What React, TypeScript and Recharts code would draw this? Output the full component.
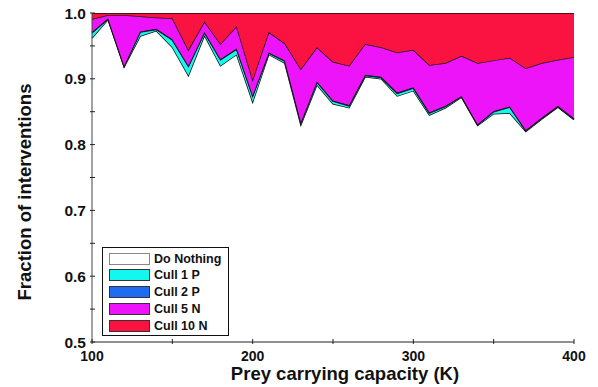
import { Area, AreaChart, Label, XAxis, YAxis } from "recharts";

const capacity = [
  100, 110, 120, 130, 140, 150, 160, 170, 180, 190, 200, 210, 220, 230, 240, 250,
  260, 270, 280, 290, 300, 310, 320, 330, 340, 350, 360, 370, 380, 390, 400,
];

const doNothing = [
  0.962, 0.99, 0.918, 0.965, 0.973, 0.948, 0.905, 0.966, 0.92, 0.937, 0.865, 0.937,
  0.924, 0.83, 0.891, 0.862, 0.856, 0.903, 0.9, 0.874, 0.882, 0.845, 0.856, 0.872,
  0.829, 0.847, 0.848, 0.82, 0.839, 0.857, 0.838,
];
const cull1P = [
  0.008, 0.001, 0.001, 0.006, 0.002, 0.011, 0.014, 0.004, 0.009, 0.008, 0.009, 0.002,
  0.003, 0.003, 0.004, 0.004, 0.003, 0.002, 0.002, 0.004, 0.004, 0.003, 0.002, 0.001,
  0.001, 0.003, 0.009, 0.001, 0.001, 0.001, 0.001,
];
const cull2P = [
  0.001, 0.001, 0.001, 0.001, 0.001, 0.001, 0.001, 0.001, 0.001, 0.001, 0.001, 0.001,
  0.001, 0.001, 0.001, 0.001, 0.001, 0.001, 0.001, 0.001, 0.001, 0.001, 0.001, 0.001,
  0.001, 0.001, 0.001, 0.001, 0.001, 0.001, 0.001,
];
const cull5N = [
  0.02, 0.005, 0.077, 0.023, 0.017, 0.032, 0.024, 0.016, 0.023, 0.034, 0.024, 0.031,
  0.026, 0.081, 0.052, 0.059, 0.06, 0.047, 0.045, 0.061, 0.057, 0.072, 0.065, 0.061,
  0.093, 0.077, 0.074, 0.094, 0.083, 0.07, 0.093,
];
const cull10N = [
  0.009, 0.003, 0.003, 0.005, 0.007, 0.008, 0.056, 0.013, 0.047, 0.02, 0.101, 0.029,
  0.046, 0.085, 0.052, 0.074, 0.08, 0.047, 0.052, 0.06, 0.056, 0.079, 0.076, 0.065,
  0.076, 0.072, 0.068, 0.084, 0.076, 0.071, 0.067,
];

const xTicks = [100, 150, 200, 250, 300, 350, 400];
const yTicks = [0.5, 0.55, 0.6, 0.65, 0.7, 0.75, 0.8, 0.85, 0.9, 0.95, 1.0];

const series = [
  { key: "doNothing", name: "Do Nothing", color: "#ffffff", border: "#888" },
  { key: "cull1P", name: "Cull 1 P", color: "#12f8ee", border: "#333" },
  { key: "cull2P", name: "Cull 2 P", color: "#1e6cf2", border: "#333" },
  { key: "cull5N", name: "Cull 5 N", color: "#ee14fa", border: "#333" },
  { key: "cull10N", name: "Cull 10 N", color: "#fa1240", border: "#333" },
];

const data = capacity.map((k, i) => ({
  k,
  doNothing: doNothing[i],
  cull1P: cull1P[i],
  cull2P: cull2P[i],
  cull5N: cull5N[i],
  cull10N: cull10N[i],
}));

const font = "'Liberation Sans', Arial, sans-serif";

function XTick({ x, y, payload }: any) {
  const v = payload.value;
  return (
    <g>
      <line x1={x} y1={y} x2={x} y2={y - 5} stroke="#222" />
      {v % 100 === 0 && (
        <text x={x} y={y + 17} textAnchor="middle" fontSize={14} fontWeight="bold" fontFamily={font} fill="#111">
          {v}
        </text>
      )}
    </g>
  );
}

function YTick({ x, y, payload }: any) {
  const v = payload.value;
  const major = Math.abs(v * 10 - Math.round(v * 10)) < 1e-6;
  return (
    <g>
      <line x1={x} y1={y} x2={x + 5} y2={y} stroke="#222" />
      {major && (
        <text x={x - 4} y={y + 5.5} textAnchor="end" fontSize={15.5} fontWeight="bold" fontFamily={font} fill="#111">
          {v.toFixed(1)}
        </text>
      )}
    </g>
  );
}

export default function App() {
  return (
    <div style={{ position: "absolute", left: 0, top: 0, width: 598, height: 387, background: "#fff" }}>
      <AreaChart width={598} height={387} data={data} margin={{ top: 13, right: 24, bottom: 0, left: 0 }}>
        <XAxis
          dataKey="k"
          type="number"
          domain={[100, 400]}
          ticks={xTicks}
          height={45}
          tickSize={0}
          tickLine={false}
          tick={<XTick />}
          stroke="#222"
        >
          <Label
            content={() => (
              <text x={345} y={380} textAnchor="middle" fontSize={18.5} fontWeight="bold" fontFamily={font} fill="#111">
                Prey carrying capacity (K)
              </text>
            )}
          />
        </XAxis>
        <YAxis
          type="number"
          domain={[0.5, 1]}
          allowDataOverflow
          ticks={yTicks}
          width={92}
          tickSize={0}
          tickLine={false}
          tick={<YTick />}
          stroke="#444"
        >
          <Label
            content={() => (
              <text
                x={31}
                y={192}
                transform="rotate(-90 31 192)"
                textAnchor="middle"
                fontSize={18.5}
                fontWeight="bold"
                fontFamily={font}
                fill="#111"
              >
                Fraction of interventions
              </text>
            )}
          />
        </YAxis>
        {series.map((s) => (
          <Area
            key={s.key}
            dataKey={s.key}
            name={s.name}
            stackId="a"
            type="linear"
            fill={s.color}
            fillOpacity={1}
            stroke="#111"
            strokeWidth={1.5}
            isAnimationActive={false}
          />
        ))}
      </AreaChart>
      <div
        style={{
          position: "absolute",
          left: 102,
          top: 247,
          width: 125,
          height: 87,
          border: "1px solid #111",
          background: "#fff",
          fontFamily: font,
          fontWeight: "bold",
          fontSize: 12.5,
        }}
      >
        {series.map((s, i) => (
          <div key={s.key} style={{ position: "absolute", left: 6, top: 4 + i * 16.75, height: 13, display: "flex", alignItems: "center" }}>
            <div style={{ width: 39, height: 10, background: s.color, border: `1px solid ${s.border}` }} />
            <span style={{ marginLeft: 4, color: "#111" }}>{s.name}</span>
          </div>
        ))}
      </div>
    </div>
  );
}
